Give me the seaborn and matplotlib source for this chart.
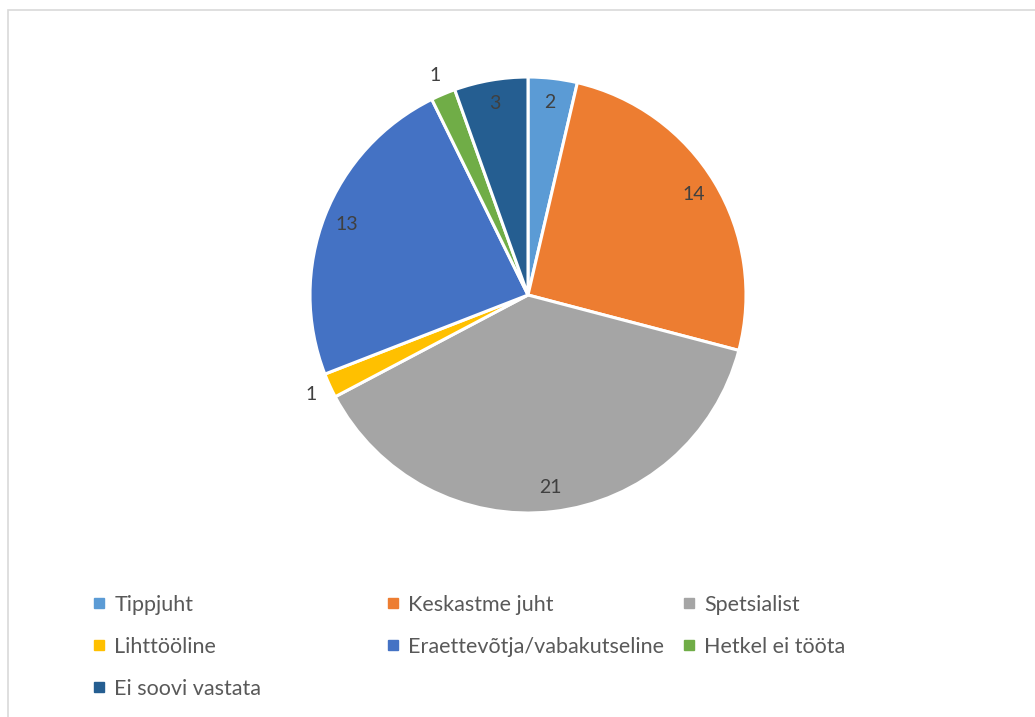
import seaborn as sns
import matplotlib.pyplot as plt
from matplotlib.lines import Line2D
from matplotlib.patches import Rectangle

categories = ["Tippjuht", "Keskastme juht", "Spetsialist", "Lihttööline",
              "Eraettevõtja/vabakutseline", "Hetkel ei tööta", "Ei soovi vastata"]
counts = [2, 14, 21, 1, 13, 1, 3]
colors = ["#5B9BD5", "#ED7D31", "#A5A5A5", "#FFC000", "#4472C4", "#70AD47", "#255E91"]

sns.set_style("white")
plt.rcParams["font.family"] = ["Lato", "DejaVu Sans"]

W, H = 1035, 717
fig = plt.figure(figsize=(W / 100, H / 100), dpi=100)

# chart border
fig.patches.append(Rectangle((8 / W, -0.01), 1.1, 1 - 10 / H + 0.01, transform=fig.transFigure,
                             fill=False, edgecolor="#D9D9D9", linewidth=1.2))

cx, cy, r = 528, 295, 218
ax = fig.add_axes([(cx - r) / W, (H - cy - r) / H, 2 * r / W, 2 * r / H])
wedges, texts = ax.pie(counts, colors=colors, startangle=90, counterclock=False,
                       radius=1, wedgeprops=dict(edgecolor="white", linewidth=2.2),
                       labels=[str(v) for v in counts], labeldistance=0.89,
                       textprops=dict(color="#404040", fontsize=14, ha="center", va="center"))
for t, v in zip(texts, counts):
    t.set_horizontalalignment("center")
    if v == 1:
        x, y = t.get_position()
        t.set_position((x * 1.23, y * 1.23))
ax.set_xlim(-1, 1)
ax.set_ylim(-1, 1)
ax.set_aspect("equal")
ax.axis("off")

handles = [Line2D([], [], marker="s", linestyle="none", markersize=6.5,
                  markerfacecolor=c, markeredgecolor=c) for c in colors]
cols = [[0, 3, 6], [1, 4], [2, 5]]
col_x = [84, 378, 674]
for xs, idx in zip(col_x, cols):
    fig.legend([handles[i] for i in idx], [categories[i] for i in idx],
               loc="upper left", bbox_to_anchor=(xs / W, 1 - 586 / H),
               frameon=False, fontsize=15.5, labelcolor="#595959",
               handlelength=0.6, handletextpad=0.4, labelspacing=1.03,
               borderaxespad=0)

fig.savefig("out.png", dpi=100)
